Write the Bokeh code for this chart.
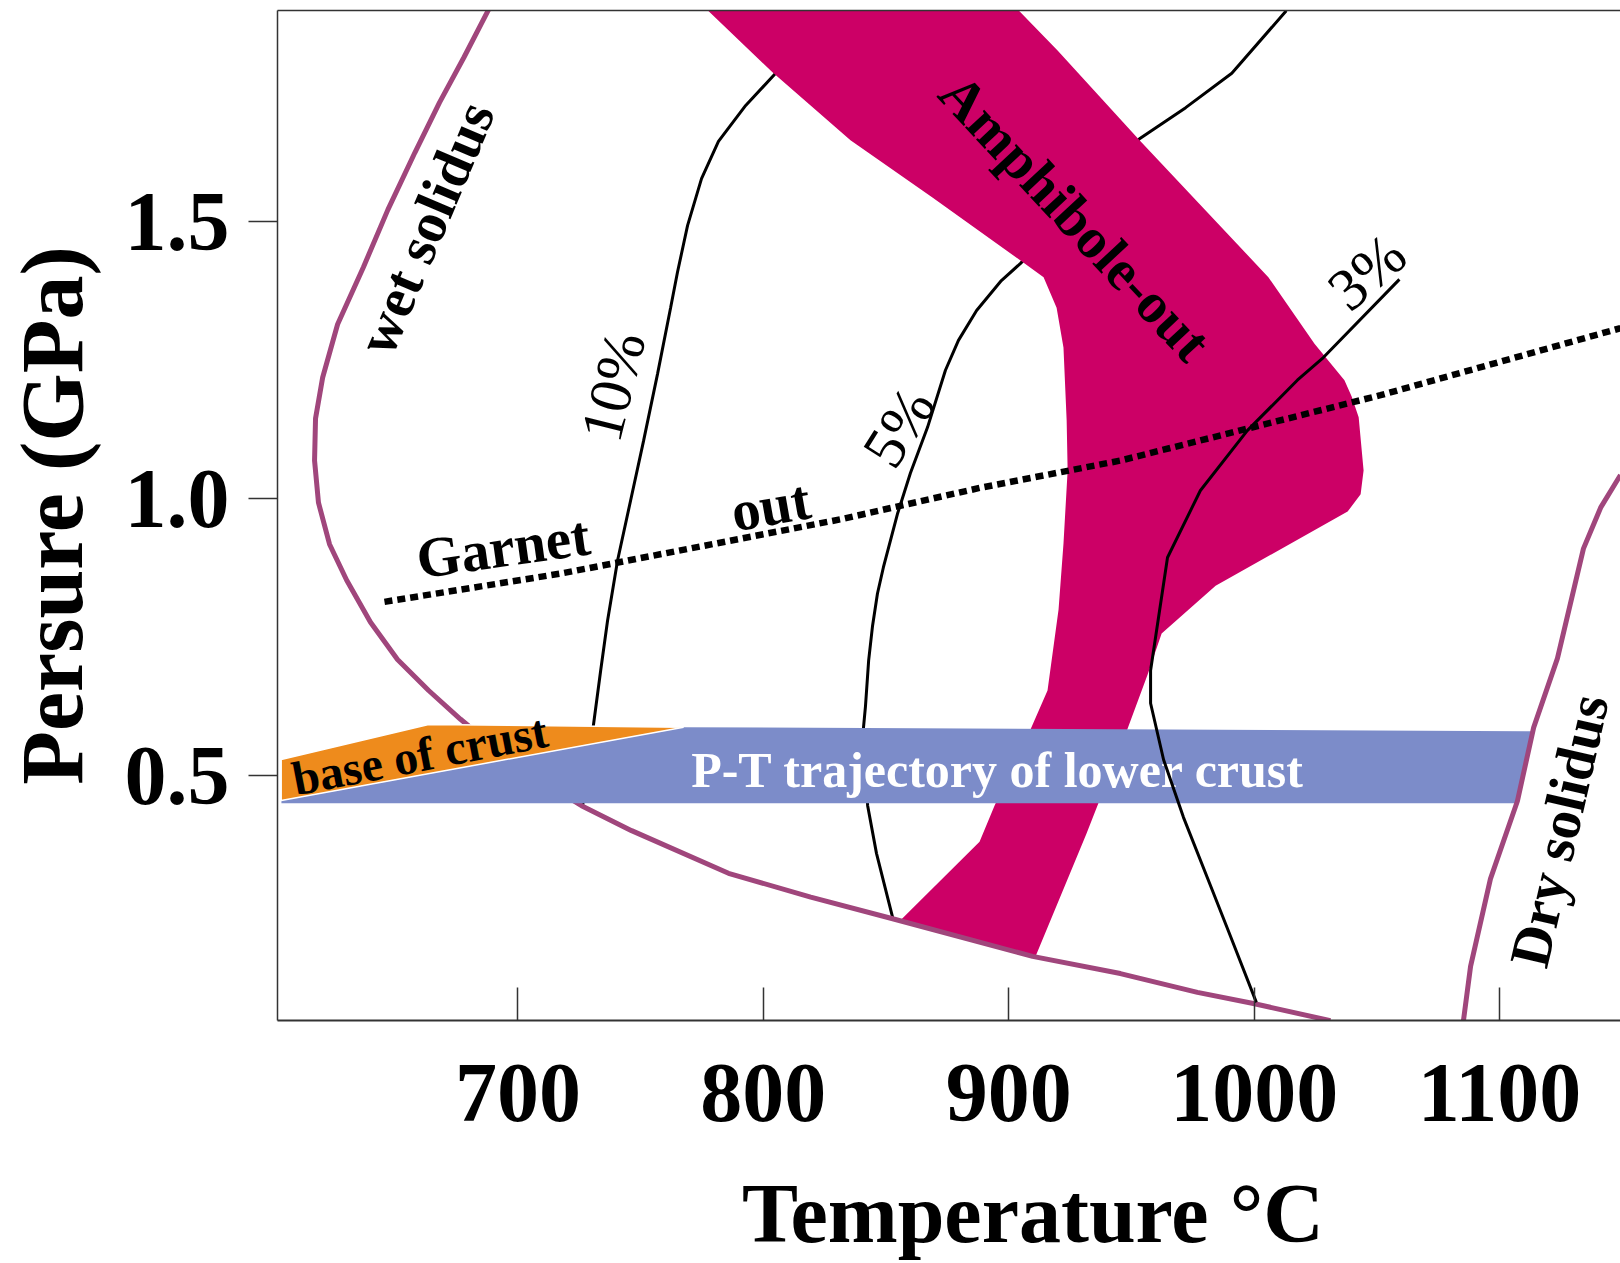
from bokeh.plotting import figure
from bokeh.models import ColumnDataSource, Range1d, FixedTicker, LinearAxis, NumeralTickFormatter
from bokeh.core.properties import value
from bokeh.embed import file_html
from bokeh.resources import INLINE

FONT = "Liberation Serif"

# ---------------- data ----------------
T_ticks = [700, 800, 900, 1000, 1100]
P_ticks = [0.5, 1.0, 1.5]

wet_T = [690, 678, 668, 658, 647, 637, 626.5, 620.4, 617.5, 617.1, 618.7, 623.2, 630.2, 639.9,
         650.9, 663.6, 676.6, 692.9, 709.2, 725.9, 746.3, 785.8, 819.3, 852.7, 909.7, 945.5,
         976.9, 999.7, 1031.1]
wet_P = [1.90, 1.797, 1.715, 1.625, 1.522, 1.418, 1.315, 1.219, 1.145, 1.069, 0.993, 0.918, 0.853,
         0.777, 0.710, 0.654, 0.602, 0.542, 0.4915, 0.446, 0.401, 0.324, 0.281, 0.242, 0.174,
         0.143, 0.109, 0.089, 0.058]

dry_T = [1085.3, 1088.2, 1096.3, 1107.3, 1113.9, 1123.6, 1134.2, 1141.2, 1149.3]
dry_P = [0.058, 0.156, 0.314, 0.4545, 0.587, 0.712, 0.910, 0.984, 1.043]

c10_T = [805.0, 792.8, 781.7, 774.8, 769.1, 765.0, 762.2, 756.9, 751.2, 745.9, 740.6, 736.5,
         733.7, 730.8, 728.4, 726.3]
c10_P = [1.768, 1.710, 1.645, 1.578, 1.493, 1.409, 1.345, 1.226, 1.105, 0.997, 0.889, 0.780,
         0.690, 0.593, 0.510, 0.445]

c5_T = [852.7, 846.1, 842.5, 841.2, 840.8, 841.6, 842.9, 844.5, 846.5, 848.9, 854.6, 859.9,
        866.9, 874.2, 879.5, 886.9, 897.0, 904.8, 953.3, 972.1, 990.9, 1013.1]
c5_P = [0.244, 0.360, 0.446, 0.528, 0.587, 0.625, 0.708, 0.771, 0.829, 0.876, 0.972, 1.046,
        1.129, 1.232, 1.286, 1.340, 1.394, 1.425, 1.650, 1.706, 1.768, 1.881]

c3_T = [1059.2, 1028.2, 1017.6, 997.2, 978.1, 964.7, 957.8, 957.8, 963.1, 971.2, 983.0, 990.4, 1000.9]
c3_P = [1.396, 1.255, 1.214, 1.123, 1.015, 0.894, 0.690, 0.631, 0.529, 0.425, 0.293, 0.210, 0.091]

garnet_T = [645.6, 717.4, 831.5, 888.5, 945.5, 1051.5, 1149.3]
garnet_P = [0.814, 0.865, 0.963, 1.020, 1.069, 1.187, 1.308]

amph_T = [773, 803.7, 835.5, 868.9, 904.8, 914.2, 919.5, 922.3, 923.6, 924.0, 922.3, 920.3, 915.8,
          908.5, 894.2, 888.1, 856.3, 910.9, 931.7, 948.0, 956.6, 962.3, 984.3, 1038.1, 1043.4,
          1044.6, 1042.6, 1039.7, 1036.8, 1024.6, 1005.8, 953.3, 919.9, 900.0]
amph_P = [1.90, 1.770, 1.647, 1.544, 1.430, 1.400, 1.345, 1.273, 1.141, 1.051, 0.919, 0.800, 0.654,
          0.580, 0.446, 0.381, 0.241, 0.174, 0.396, 0.580, 0.683, 0.757, 0.843, 0.977, 1.008,
          1.051, 1.147, 1.185, 1.214, 1.280, 1.400, 1.647, 1.809, 1.90]

traj_T = [603.6, 603.6, 767.5, 1113.5, 1106.5]
traj_P = [0.4505, 0.4554, 0.5877, 0.5805, 0.4505]

base_T = [603.5, 663.6, 767.5, 603.5]
base_P = [0.5294, 0.5926, 0.5877, 0.4554]

# labels
bold_text = ["wet solidus", "Amphibole-out", "Garnet", "out", "Dry solidus"]
bold_T = [662.3, 927.2, 693.9, 802.9, 1124.2]
bold_P = [1.489, 1.508, 0.913, 0.988, 0.401]
bold_ang = [67, -47, 8, 10, 77]

pct_text = ["10%", "5%", "3%"]
pct_T = [738.8, 855.2, 1046.0]
pct_P = [1.203, 1.129, 1.409]
pct_ang = [76, 58, 41]

base_text = ["base of crust"]
base_lT = [660.0]
base_lP = [0.538]
base_ang = [11]

traj_text = ["P-T trajectory of lower crust"]
traj_lT = [895.6]
traj_lP = [0.5096]

x_title = "Temperature °C"
y_title = "Persure (GPa)"
x_title_pad = "\u00a0" * 8   # no-break spaces: shift the centred x title to the right

# ---------------- styles ----------------
PINK = "#CC0066"
SOLIDUS = "#A0467C"
ORANGE = "#EE8B1C"
BLUE = "#7C8CC9"
AX = "#333333"

p = figure(width=1620, height=1263, output_backend="svg", toolbar_location=None,
           x_range=Range1d(602.0, 1149.3), y_range=Range1d(0.0583, 1.8814),
           min_border_left=277, min_border_right=0, min_border_top=10, min_border_bottom=243)
p.grid.visible = False
p.outline_line_color = None
p.background_fill_color = "white"
p.border_fill_color = "white"

# x axis
xa = p.xaxis[0]
xa.ticker = FixedTicker(ticks=T_ticks)
xa.major_tick_in = 33
xa.major_tick_out = 0
xa.minor_tick_line_color = None
xa.major_tick_line_color = AX
xa.major_tick_line_width = 1.5
xa.axis_line_color = AX
xa.axis_line_width = 2
xa.major_label_standoff = 44
xa.major_label_text_font = FONT
xa.major_label_text_font_style = "bold"
xa.major_label_text_font_size = "84px"
xa.major_label_text_color = "black"

# x title as a label-only axis below the main one
xt = LinearAxis(ticker=FixedTicker(ticks=[]),
                axis_line_color=None, major_tick_line_color=None, minor_tick_line_color=None,
                major_tick_in=0, major_tick_out=0, major_label_standoff=0,
                major_label_text_font_size="0px",
                axis_label=x_title_pad + x_title, axis_label_standoff=43,
                axis_label_text_font=FONT, axis_label_text_font_style="bold",
                axis_label_text_font_size="84px", axis_label_text_color="black")
p.add_layout(xt, "below")

# y axis
ya = p.yaxis[0]
ya.ticker = FixedTicker(ticks=P_ticks)
ya.formatter = NumeralTickFormatter(format="0.0")
ya.major_tick_in = 0
ya.major_tick_out = 29
ya.minor_tick_line_color = None
ya.major_tick_line_color = AX
ya.major_tick_line_width = 1.5
ya.axis_line_color = AX
ya.axis_line_width = 1.5
ya.major_label_standoff = 19
ya.major_label_text_font = FONT
ya.major_label_text_font_style = "bold"
ya.major_label_text_font_size = "84px"
ya.major_label_text_color = "black"
ya.axis_label = y_title
ya.axis_label_text_font = FONT
ya.axis_label_text_font_style = "bold"
ya.axis_label_text_font_size = "88px"
ya.axis_label_text_color = "black"
ya.axis_label_standoff = 21

# top border line
top_ax = LinearAxis(ticker=FixedTicker(ticks=[]), major_label_text_font_size="0px",
                    major_tick_line_color=None, minor_tick_line_color=None,
                    axis_line_color=AX, axis_line_width=1.5, major_label_standoff=0)
p.add_layout(top_ax, "above")

# ---------------- marks ----------------
p.line(c10_T, c10_P, line_color="black", line_width=3)
p.line(c5_T, c5_P, line_color="black", line_width=3)
p.patch(amph_T, amph_P, fill_color=PINK, line_color=None)
p.line(wet_T, wet_P, line_color=SOLIDUS, line_width=5)
p.patch(traj_T, traj_P, fill_color=BLUE, line_color=None)
p.patch(base_T, base_P, fill_color=ORANGE, line_color="white", line_width=1.5)
p.line(dry_T, dry_P, line_color=SOLIDUS, line_width=5)
p.line(garnet_T, garnet_P, line_color="black", line_width=6.5, line_dash="8 5")

p.text(x=traj_lT, y=traj_lP, text=traj_text, text_font=value(FONT), text_font_style="bold",
       text_font_size=value("50px"), text_color="white", text_align="center",
       text_baseline="middle")
p.line(c3_T, c3_P, line_color="black", line_width=3)

src_b = ColumnDataSource(dict(x=bold_T, y=bold_P, t=bold_text, a=bold_ang))
p.text(x="x", y="y", text="t", angle="a", angle_units="deg", source=src_b,
       text_font=value(FONT), text_font_style="bold", text_font_size=value("57px"),
       text_color="black", text_align="center", text_baseline="middle")

src_p = ColumnDataSource(dict(x=pct_T, y=pct_P, t=pct_text, a=pct_ang))
p.text(x="x", y="y", text="t", angle="a", angle_units="deg", source=src_p,
       text_font=value(FONT), text_font_style="normal", text_font_size=value("60px"),
       text_color="black", text_align="center", text_baseline="middle")

src_c = ColumnDataSource(dict(x=base_lT, y=base_lP, t=base_text, a=base_ang))
p.text(x="x", y="y", text="t", angle="a", angle_units="deg", source=src_c,
       text_font=value(FONT), text_font_style="bold", text_font_size=value("48px"),
       text_color="black", text_align="center", text_baseline="middle")

open("out.html", "w").write(file_html(p, INLINE))
